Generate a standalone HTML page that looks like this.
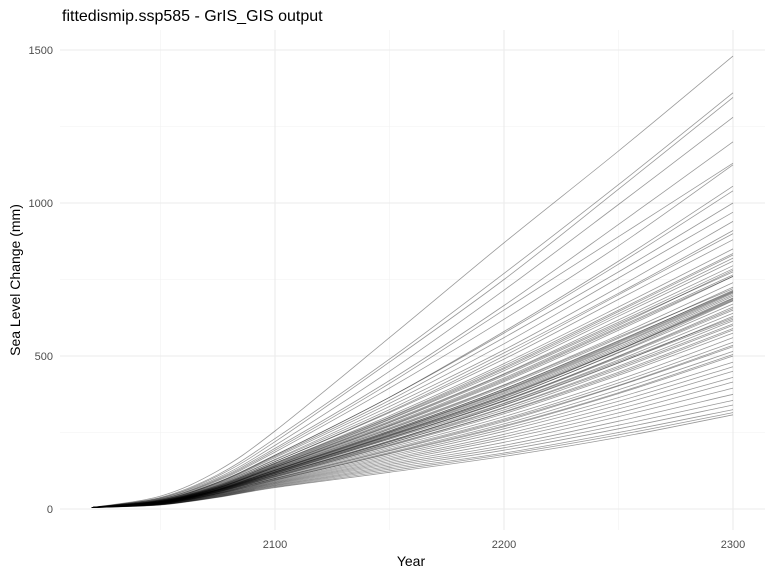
<!DOCTYPE html>
<html><head><meta charset="utf-8"><style>
body{margin:0;background:#fff;}
svg{display:block;font-family:"Liberation Sans",sans-serif;}
</style></head><body>
<svg id="chart" width="771" height="576">
<text x="62" y="21" font-size="16" fill="#000">fittedismip.ssp585 - GrIS_GIS output</text>
<g id="grid"></g>
<g id="lines"></g>
<g id="axes"></g>
<text x="411" y="566" font-size="14" text-anchor="middle" fill="#000">Year</text>
<text transform="translate(20,280) rotate(-90)" font-size="14" text-anchor="middle" fill="#000">Sea Level Change (mm)</text>
</svg>
<script>
const years = [2020, 2050, 2075, 2100, 2150, 2200, 2250, 2300];
const series = [
[5,42,125,255,560,870,1170,1480],
[5,38,112,230,490,770,1060,1360],
[5,36,108,220,480,750,1045,1345],
[5,35,102,208,450,715,995,1280],
[5,33,98,198,420,665,930,1200],
[5,32,95,192,410,650,890,1130],
[5,31,92,186,395,620,860,1125],
[5,30,88,176,365,580,810,1055],
[5,29,86,172,355,560,775,1000],
[5,28,84,168,345,540,755,970],
[5,28,82,162,335,520,725,940],
[5,27,80,160,325,510,705,910],
[5,27,78,155,315,490,685,880],
[5,26,76,150,305,475,660,850],
[5,26,75,148,298,462,645,830],
[5,25,73,144,292,452,630,810],
[5,25,72,142,287,442,618,795],
[5,24,70,138,277,428,600,780],
[5,24,69,136,270,416,584,760],
[5,24,68,134,265,406,568,740],
[5,23,67,131,260,400,558,725],
[5,23,66,128,255,392,548,715],
[5,23,65,126,250,384,538,705],
[5,22,63,124,246,376,530,695],
[5,22,63,122,243,370,520,685],
[5,22,62,120,238,362,510,670],
[5,21,61,118,233,354,498,655],
[5,21,60,116,228,346,487,640],
[5,21,59,114,223,339,477,630],
[5,20,58,112,219,332,467,615],
[5,20,57,110,215,324,457,600],
[5,20,56,108,210,318,447,590],
[5,19,55,106,206,311,437,575],
[5,19,54,104,201,302,422,560],
[5,19,53,101,196,294,412,545],
[5,18,52,99,190,286,402,530],
[5,18,51,97,185,278,390,515],
[5,18,50,95,180,269,377,500],
[5,17,49,92,175,262,364,480],
[5,17,48,90,170,254,352,465],
[5,17,47,88,165,244,340,450],
[5,16,46,86,160,236,327,430],
[5,16,45,84,155,228,314,415],
[5,16,44,82,150,218,302,395],
[5,15,43,80,145,208,287,375],
[5,15,42,78,140,200,274,355],
[5,14,41,76,135,192,262,340],
[5,14,40,74,130,183,250,325],
[5,14,39,72,125,178,242,315],
[5,13,38,70,120,172,234,308],
[5,24,70,140,282,436,605,775],
[5,23,68,136,272,420,590,760],
[5,23,67,132,262,404,562,720],
[5,22,64,127,252,388,545,710],
[5,22,63,125,248,380,535,700],
[5,21,62,122,242,372,525,690],
[5,21,60,118,236,360,512,680],
[5,20,59,115,230,352,495,650],
[5,20,58,112,222,344,482,625],
[5,19,56,108,214,330,462,605],
[5,25,74,150,300,468,650,835],
[5,26,77,155,318,500,700,900],
[5,29,87,175,365,575,800,1040],
[5,18,52,100,192,290,404,535],
[5,17,50,94,182,272,380,505],
[5,24,71,141,284,440,610,785],
[5,23,69,137,274,424,594,765],
[5,22,65,129,256,392,550,712],
[5,21,61,120,240,368,520,688],
[5,20,57,111,220,340,478,620],
[5,19,55,105,208,316,442,585],
[5,25,73,146,294,458,638,820],
[5,22,64,126,252,386,542,708],
[5,21,62,121,240,366,518,682],
[5,20,60,117,232,355,500,660]
];
const xTicks = [2100, 2200, 2300];
const xMinor = [2050, 2150, 2250];
const yTicks = [0, 500, 1000, 1500];
const yMinor = [250, 750, 1250];

const NS = "http://www.w3.org/2000/svg";
const X0 = 60, X1 = 765, Y0 = 30, Y1 = 530;
function xs(v){ return 275 + (v - 2100) * 2.29; }
function ys(v){ return 509 - v * 0.306; }
function mk(tag, attrs, parent){
  const e = document.createElementNS(NS, tag);
  for (const k in attrs) e.setAttribute(k, attrs[k]);
  parent.appendChild(e);
  return e;
}
function smoothPath(pts){
  let d = 'M' + pts[0][0].toFixed(1) + ',' + pts[0][1].toFixed(1);
  for (let i = 0; i < pts.length - 1; i++){
    const p0 = pts[i-1] || pts[i], p1 = pts[i], p2 = pts[i+1], p3 = pts[i+2] || p2;
    const c1x = p1[0] + (p2[0]-p0[0])/6, c1y = p1[1] + (p2[1]-p0[1])/6;
    const c2x = p2[0] - (p3[0]-p1[0])/6, c2y = p2[1] - (p3[1]-p1[1])/6;
    d += ' C' + c1x.toFixed(1) + ',' + c1y.toFixed(1) + ' ' + c2x.toFixed(1) + ',' + c2y.toFixed(1) + ' ' + p2[0].toFixed(1) + ',' + p2[1].toFixed(1);
  }
  return d;
}
const grid = document.getElementById('grid');
const axes = document.getElementById('axes');
const lines = document.getElementById('lines');
xMinor.forEach(v => {
  const l = mk('line', {x1:xs(v), x2:xs(v), y1:Y0, y2:Y1, stroke:'#f2f2f2', 'stroke-width':0.6}, grid);
  
  
});
yMinor.forEach(v => {
  const l = mk('line', {x1:X0, x2:X1, y1:ys(v), y2:ys(v), stroke:'#f2f2f2', 'stroke-width':0.6}, grid);
  
  
});
xTicks.forEach(v => {
  const l = mk('line', {x1:xs(v), x2:xs(v), y1:Y0, y2:Y1, stroke:'#ebebeb', 'stroke-width':1.1}, grid);
  
  
  const t = mk('text', {x:xs(v), y:548, 'font-size':11, 'text-anchor':'middle', fill:'#4d4d4d'}, axes);
  t.textContent = v;
  
  
});
yTicks.forEach(v => {
  const l = mk('line', {x1:X0, x2:X1, y1:ys(v), y2:ys(v), stroke:'#ebebeb', 'stroke-width':1.1}, grid);
  
  
  const t = mk('text', {x:53, y:ys(v)+4, 'font-size':11, 'text-anchor':'end', fill:'#4d4d4d'}, axes);
  t.textContent = v;
  
  
});
series.forEach(row => {
  const pts = row.map((v, j) => [xs(years[j]), ys(v)]);
  const p = mk('path', {d:smoothPath(pts), fill:'none', stroke:'rgba(0,0,0,0.4)', 'stroke-width':0.8, 'stroke-linejoin':'round'}, lines);
  
  
});
</script>
</body></html>
